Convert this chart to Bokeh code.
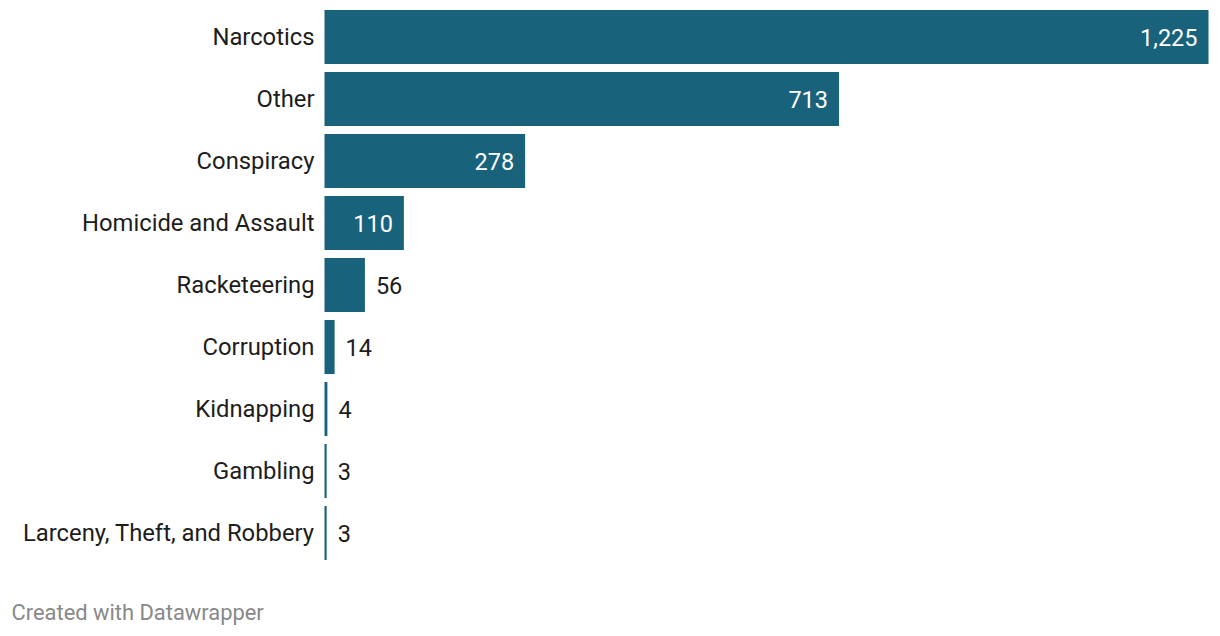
from bokeh.plotting import figure
from bokeh.models import ColumnDataSource, Range1d, Label
from bokeh.core.properties import value
from bokeh.embed import file_html
from bokeh.resources import INLINE

categories = ["Narcotics", "Other", "Conspiracy", "Homicide and Assault", "Racketeering",
              "Corruption", "Kidnapping", "Gambling", "Larceny, Theft, and Robbery"]
counts = [1225, 713, 278, 110, 56, 14, 4, 3, 3]

BAR = "#18627b"
TXT = "#1d1d1d"
FONT = "Roboto"

W, H = 1212, 628
PX_PER_UNIT = 884 / 1225.0
LEFT_PX = 324   # space for category labels
ROW_PX = 62.0
TOP_OFF = 36.5  # px from top to first bar centre

rows = list(range(len(categories)))
inside = [c >= 100 for c in counts]
labels = [f"{c:,}" for c in counts]

src = ColumnDataSource(dict(y=rows, v=counts, cat=categories, lab=labels))
src_in = ColumnDataSource(dict(y=[r for r, i in zip(rows, inside) if i],
                               v=[c for c, i in zip(counts, inside) if i],
                               lab=[l for l, i in zip(labels, inside) if i]))
src_out = ColumnDataSource(dict(y=[r for r, i in zip(rows, inside) if not i],
                                v=[c for c, i in zip(counts, inside) if not i],
                                lab=[l for l, i in zip(labels, inside) if not i]))

x0 = -LEFT_PX / PX_PER_UNIT
x1 = x0 + W / PX_PER_UNIT
ytop = -TOP_OFF / ROW_PX
ybot = ytop + H / ROW_PX

p = figure(width=W, height=H, output_backend="svg", toolbar_location=None,
           x_range=Range1d(x0, x1), y_range=Range1d(ybot, ytop),
           min_border=0, min_border_left=0, min_border_right=0,
           min_border_top=0, min_border_bottom=0)
p.axis.visible = False
p.grid.visible = False
p.outline_line_color = None
p.background_fill_color = "white"
p.border_fill_color = "white"

p.hbar(y="y", left=0, right="v", height=54 / ROW_PX, source=src,
       fill_color=BAR, line_color=None)

p.text(x=0, y="y", text="cat", source=src, x_offset=-10,
       text_align="right", text_baseline="middle",
       text_font=value(FONT), text_font_size="23.8px", text_color=TXT)

p.text(x="v", y="y", text="lab", source=src_in, x_offset=-11,
       text_align="right", text_baseline="middle",
       text_font=value(FONT), text_font_size="23.5px", text_color="white")
p.text(x="v", y="y", text="lab", source=src_out, x_offset=11,
       text_align="left", text_baseline="middle",
       text_font=value(FONT), text_font_size="23.5px", text_color=TXT)

footer = Label(x=11, y=H - 612, x_units="screen", y_units="screen",
               text="Created with Datawrapper", text_font=FONT,
               text_font_size="21.9px", text_color="#888888",
               text_baseline="middle", text_align="left")
p.add_layout(footer)

with open("out.html", "w") as f:
    f.write(file_html(p, INLINE))
